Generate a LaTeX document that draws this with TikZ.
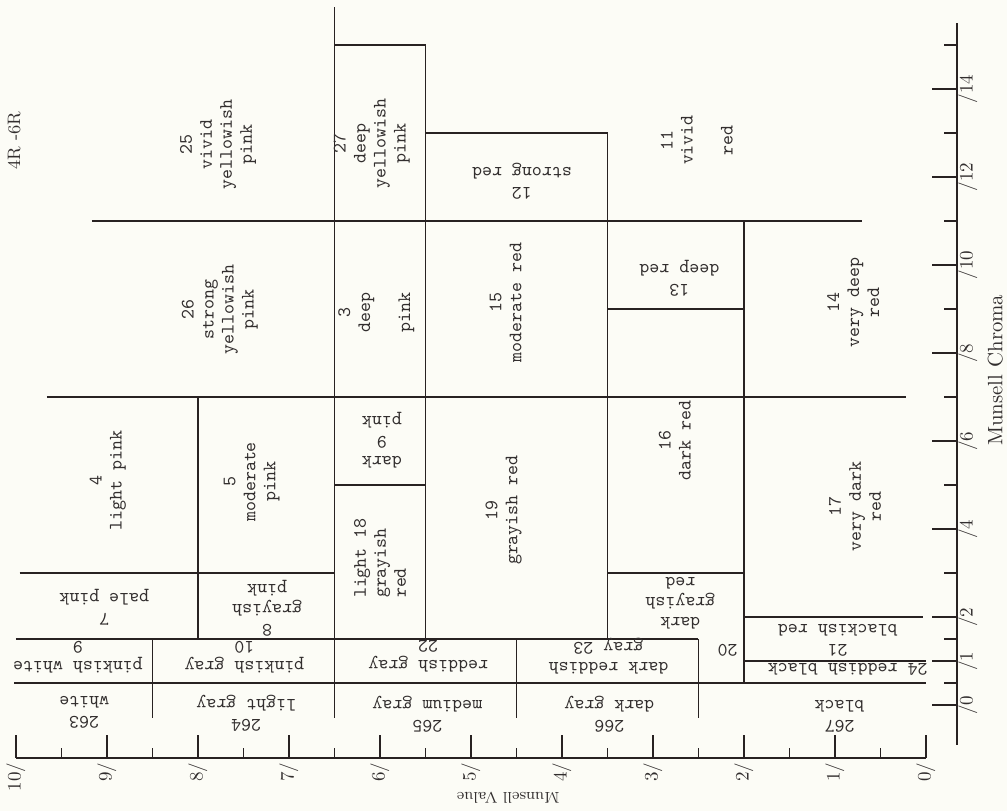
\documentclass[tikz,border=0pt]{standalone}
\usepackage{tikz}

\definecolor{paper}{RGB}{252,252,246}
\definecolor{inkline}{RGB}{40,34,34}
\definecolor{inktext}{RGB}{50,46,46}

\begin{document}
\begin{tikzpicture}[x={(-45.5pt,0pt)}, y={(0pt,22pt)},
  cell/.style={line width=0.95pt, draw=inkline},
  clab/.style={font=\ttfamily\fontsize{9.5}{10}\selectfont, text=inktext, align=center, inner sep=0pt},
  ulab/.style={clab, rotate=90},
  flab/.style={clab, rotate=180},
  slab/.style={font=\fontsize{9.5}{11}\selectfont, text=inktext, inner sep=0pt, rotate=90}]
\fill[paper] (10.1758,-2.409) rectangle (-0.8901,16.023);
\useasboundingbox (10.1758,-2.409) rectangle (-0.8901,16.023);

\draw[cell] (6.5,15.86) -- (6.5,-0.3);
\draw[cell] (6.5,15) -- (5.5,15) -- (5.5,1.5);
\draw[cell] (5.5,13) -- (3.5,13) -- (3.5,1.5);
\draw[cell] (9.165,11) -- (0.70,11);
\draw[cell] (2,11) -- (2,0.5);
\draw[cell] (3.5,9) -- (2,9);
\draw[cell] (9.66,7) -- (0.22,7);
\draw[cell] (6.5,5) -- (5.5,5);
\draw[cell] (9.96,3) -- (6.5,3);
\draw[cell] (3.5,3) -- (2,3);
\draw[cell] (8,7) -- (8,1.5);
\draw[cell] (2,2) -- (0.03,2);
\draw[cell] (10,1.5) -- (2.5,1.5);
\draw[cell] (2,1) -- (0,1);
\draw[cell] (10.02,0.5) -- (0,0.5);
\foreach \v in {8.5,4.5,2.5}
  \draw[cell] (\v,1.5) -- (\v,-0.3);

\draw[cell] (10,-1.2) -- (0,-1.2);
\foreach \v in {0,...,10} {
  \draw[cell] (\v,-1.2) -- (\v,-0.68);
  \node[slab, anchor=east] (v\v) at (\v,-1.30) {\v/};
}
\foreach \v in {0.5,1.5,...,9.5}
  \draw[cell] (\v,-1.2) -- (\v,-0.98);

\draw[cell] (-0.34,15.5) -- (-0.34,-0.91);
\foreach \c in {0,1,2,4,...,14} {
  \draw[cell] (-0.07,\c) -- (-0.34,\c);
  \node[slab] (c\c) at (-0.46,\c) {/\c};
}
\foreach \c in {0.5,1.5,3,5,...,15}
  \draw[cell] (-0.2,\c) -- (-0.34,\c);

\node[slab, font=\fontsize{9}{11}\selectfont] (hue) at (10.02,12.82) {4R -6R};
\node[slab, font=\fontsize{10.4}{12}\selectfont] (chroma) at (-0.76,7.61) {Munsell Chroma};
\node[slab, rotate=90, font=\fontsize{7.8}{10}\selectfont] (value) at (4.59,-2.11) {Munsell Value};

\node[ulab] (n25) at (7.78,12.73) {25\\vivid\\yellowish\\pink};
\node[ulab] (n26) at (7.76,8.98) {26\\strong\\yellowish\\pink};
\node[ulab] (n27) at (6.09,12.77) {27\\deep\\yellowish\\pink};
\node[flab] (n12) at (4.44,11.91) {12\\strong red};
\node[ulab] (n11) at (2.52,12.84) {11\\vivid\\[10pt]red};
\node[ulab] (n3) at (6.04,8.91) {3\\deep\\[10pt]pink};
\node[ulab] (n15) at (4.62,9.14) {15\\moderate red};
\node[flab] (n13) at (2.71,9.70) {13\\deep red};
\node[ulab] (n14) at (0.80,9.14) {14\\very deep\\red};
\node[ulab] (n4) at (8.99,5.11) {4\\light pink};
\node[ulab] (n5) at (7.41,5.07) {5\\moderate\\pink};
\node[flab] (n9) at (5.98,6.02) {dark\\9\\pink};
\node[ulab] (n16) at (2.76,6.02) {16\\dark red};
\node[ulab] (n17) at (0.78,4.52) {17\\very dark\\red};
\node[ulab] (n19) at (4.64,4.43) {19\\grayish red};
\node[ulab, align=left] (n18) at (6.00,3.34) {light 18\\grayish\\red};
\node[flab] (n7) at (9.03,2.23) {7\\pale pink};
\node[flab] (n8) at (7.24,2.20) {8\\grayish\\pink};
\node[flab] (n20) at (2.70,2.32) {dark\\grayish\\red};
\node[flab] (n20num) at (2.18,1.25) {20};
\node[flab] (n21) at (0.97,1.48) {21\\blackish red};
\node[flab] (n24) at (0.86,0.80) {24 reddish black};
\node[flab] (n9w) at (9.32,1.09) {pinkish white\\9};
\node[flab] (n10) at (7.49,1.09) {pinkish gray\\10};
\node[flab] (n22) at (5.47,1.11) {reddish gray\\22};
\node[flab] (n23) at (3.49,1.11) {dark reddish\\gray 23};
\node[flab] (n263) at (9.25,-0.16) {263\\white};
\node[flab] (n264) at (7.47,-0.18) {264\\light gray};
\node[flab] (n265) at (5.48,-0.20) {265\\medium gray};
\node[flab] (n266) at (3.48,-0.20) {266\\dark gray};
\node[flab] (n267) at (0.95,-0.25) {267\\black};
\end{tikzpicture}
\end{document}
